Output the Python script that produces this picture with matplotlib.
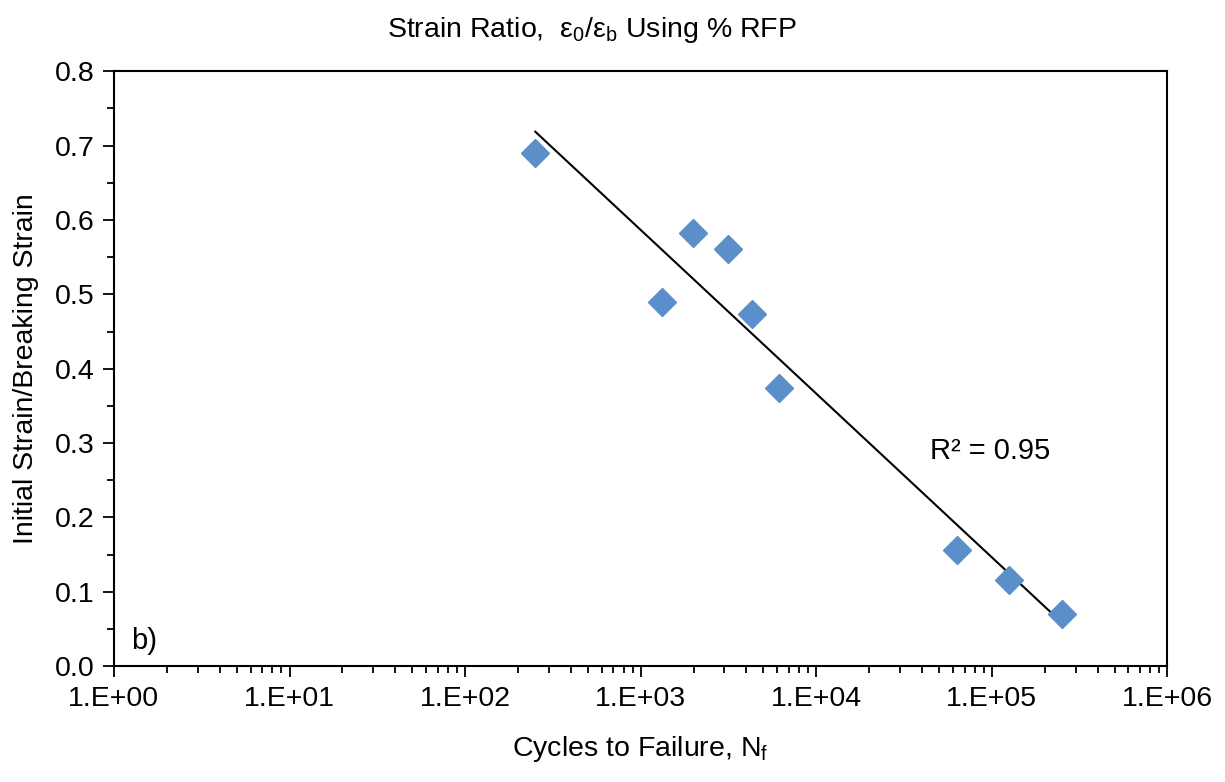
import numpy as np
import matplotlib.pyplot as plt
from matplotlib.ticker import FuncFormatter, FixedLocator, MultipleLocator, NullFormatter

plt.rcParams['font.family'] = ['Liberation Sans', 'DejaVu Sans']

# cycles to failure and strain ratio
cycles = [251, 1320, 1990, 3140, 4280, 6100, 63500, 125000, 250000]
ratio = [0.690, 0.490, 0.582, 0.561, 0.473, 0.374, 0.156, 0.116, 0.070]

decades = [0, 1, 2, 3, 4, 5, 6]
xticklabels = ['1.E+00', '1.E+01', '1.E+02', '1.E+03', '1.E+04', '1.E+05', '1.E+06']

title = r'Strain Ratio,  ε$_\mathregular{0}$/ε$_\mathregular{b}$ Using % RFP'
xlab = r'Cycles to Failure, N$_\mathregular{f}$'
ylab = 'Initial Strain/Breaking Strain'

fig = plt.figure(figsize=(12.25, 7.82), dpi=100)
ax = fig.add_axes([0.093, 0.148, 0.860, 0.761])

ax.plot(cycles, ratio, linestyle='none', marker='D', markersize=14,
        color='#5B8FC9', markeredgecolor='#5B8FC9', zorder=3)

# logarithmic trendline, like excel
lx = np.log(cycles)
a, b = np.polyfit(lx, ratio, 1)
xs = np.array([min(cycles), max(cycles)])
ax.plot(xs, a * np.log(xs) + b, color='black', lw=1.5, zorder=2)

ax.set_xscale('log')
ax.set_xlim(1, 1e6)
ax.set_ylim(0, 0.8)
major = [10.0 ** d for d in decades]
minor = [m * 10.0 ** d for d in decades[:-1] for m in range(2, 10)]
ax.xaxis.set_major_locator(FixedLocator(major))
ax.xaxis.set_minor_locator(FixedLocator(minor))
ax.set_xticks(major, xticklabels)
ax.xaxis.set_minor_formatter(NullFormatter())
ax.yaxis.set_major_locator(MultipleLocator(0.1))
ax.yaxis.set_minor_locator(MultipleLocator(0.05))
ax.yaxis.set_major_formatter(FuncFormatter(lambda v, p: '%.1f' % v))

ax.tick_params(which='major', direction='out', length=8, width=1.3, labelsize=20.5, pad=6)
ax.tick_params(which='minor', direction='out', length=5, width=1.3)
for s in ax.spines.values():
    s.set_linewidth(1.5)

ax.set_xlabel(xlab, fontsize=20.5)
ax.set_ylabel(ylab, fontsize=20.5)
ax.xaxis.set_label_coords(0.5, -0.113)
ax.yaxis.set_label_coords(-0.071, 0.5)
fig.text(0.483, 0.962, title, fontsize=20.5, ha='center', va='center')

ax.text(10 ** 4.65, 0.29, 'R² = 0.95', fontsize=21, va='center', ha='left')
ax.text(10 ** 0.1, 0.034, 'b)', fontsize=21, va='center', ha='left')

fig.savefig('out.png', dpi=100)
